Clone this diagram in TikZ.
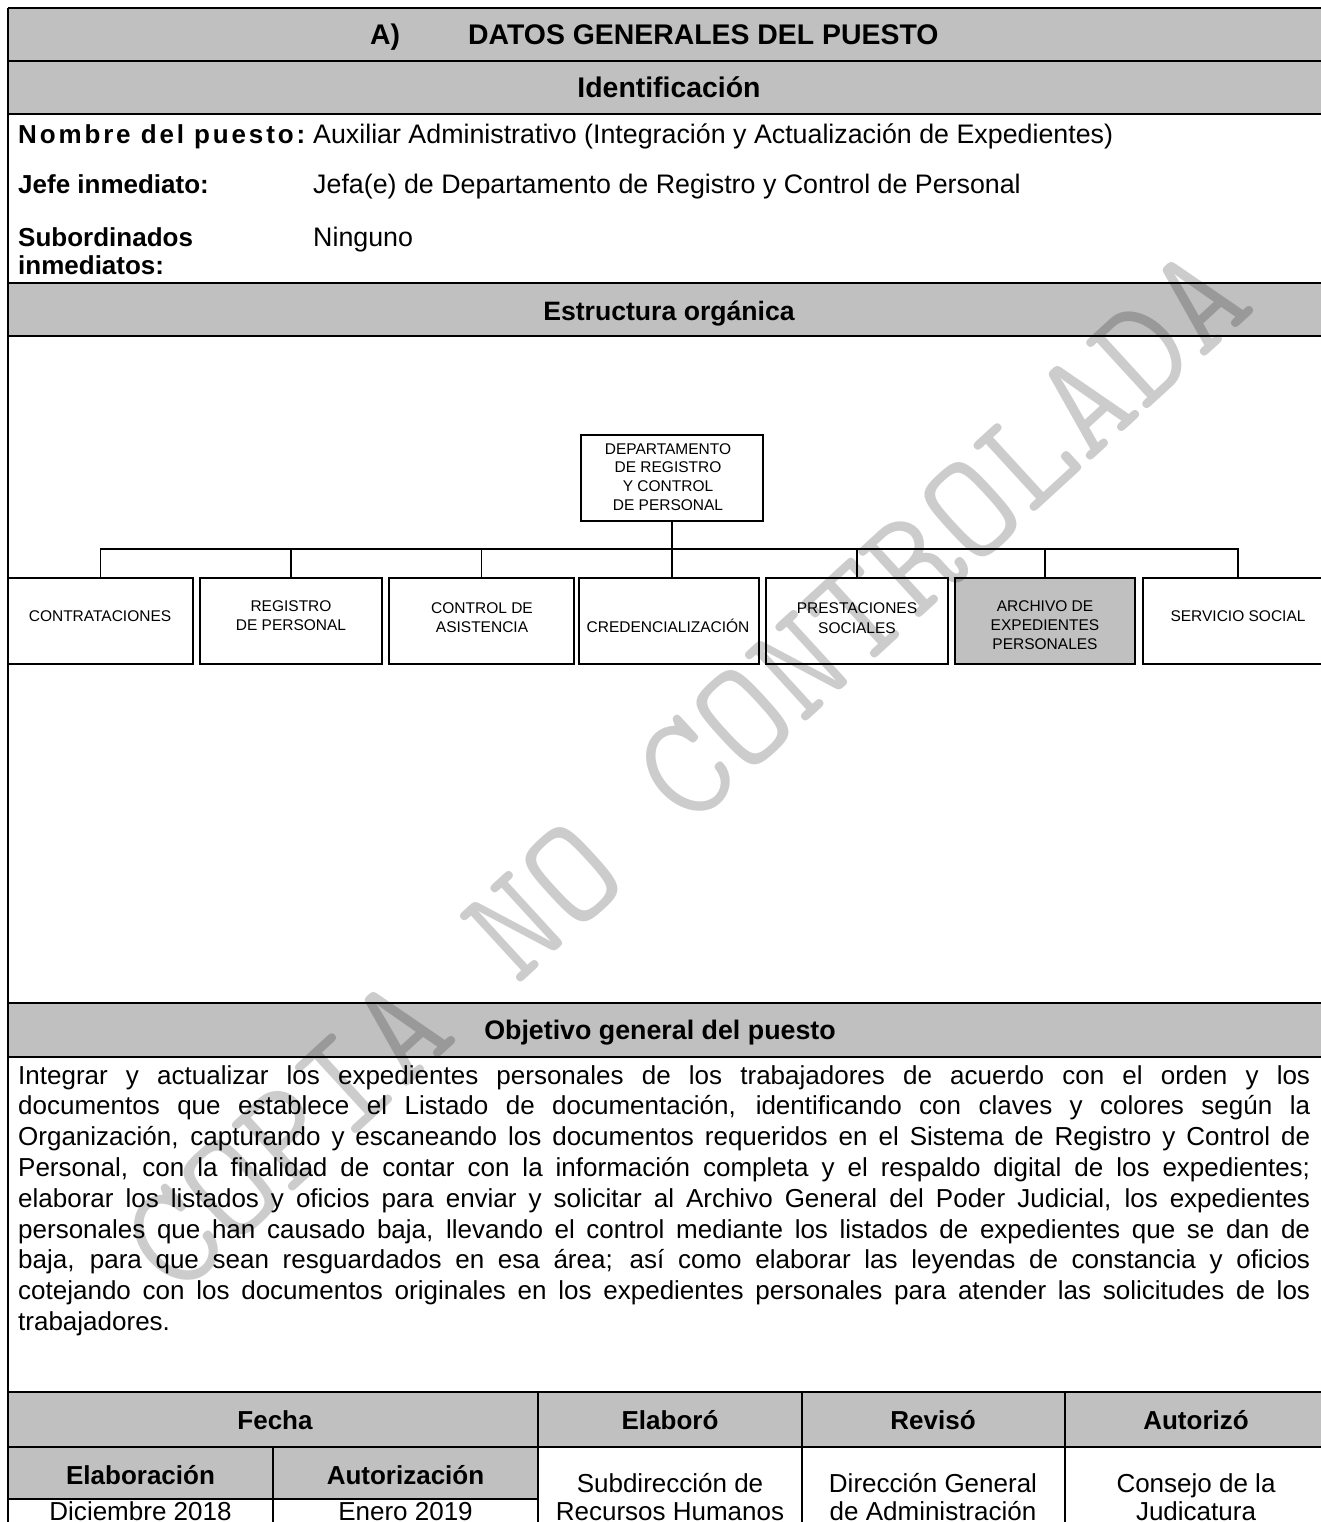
\documentclass[tikz,border=0pt]{standalone}
\usepackage{fontspec}
\setmainfont{Liberation Sans}
\definecolor{band}{RGB}{192,192,192}
\newcommand\szhead{\fontsize{26}{30}\selectfont}
\newcommand\sztitle{\fontsize{28.4}{32}\selectfont}
\newcommand\szval{\fontsize{26.8}{30}\selectfont}
\newcommand\szorg{\fontsize{15.5}{18.7}\selectfont}
\newcommand\szmark{\fontfamily{lmtt}\fontsize{150}{150}\selectfont}
\begin{document}
\begin{tikzpicture}[x=1pt,y=-1pt,
  rule/.style={line width=1.6pt},
  hdrtxt/.style={font=\szhead\bfseries, anchor=base, inner sep=0pt},
  titletxt/.style={font=\sztitle\bfseries, anchor=base, inner sep=0pt},
  celltxt/.style={font=\szhead, anchor=base, inner sep=0pt},
  lbl/.style={font=\szhead\bfseries, anchor=base west, inner sep=0pt},
  val/.style={font=\szval, anchor=base west, inner sep=0pt},
  bodyline/.style={font=\szhead, anchor=base west, inner sep=0pt},
  orgbox/.style={draw, line width=1.8pt, minimum height=86pt, inner sep=0pt},
  orgtxt/.style={font=\szorg, anchor=base, inner sep=0pt},
  link/.style={line width=1.3pt}]
\useasboundingbox (0,0) rectangle (1320,1522);

% shaded bands
\fill[band] (8,8) rectangle (1335,61);
\fill[band] (8,61) rectangle (1335,114);
\fill[band] (8,283) rectangle (1335,336);
\fill[band] (8,1003) rectangle (1335,1057);
\fill[band] (8,1392) rectangle (1335,1447);
\fill[band] (8,1447) rectangle (538,1499);

% table rules
\draw[rule] (8,8) -- (1335,8);
\draw[rule] (8,61) -- (1335,61);
\draw[rule] (8,114) -- (1335,114);
\draw[rule] (8,283) -- (1335,283);
\draw[rule] (8,336) -- (1335,336);
\draw[rule] (8,1003) -- (1335,1003);
\draw[rule] (8,1057) -- (1335,1057);
\draw[rule] (8,1392) -- (1335,1392);
\draw[rule] (8,1447) -- (1335,1447);
\draw[rule] (8,1499) -- (538,1499);
\draw[rule] (8,8) -- (8,1530);
\draw[rule] (273,1447) -- (273,1530);
\draw[rule] (538,1392) -- (538,1530);
\draw[rule] (802,1392) -- (802,1530);
\draw[rule] (1065,1392) -- (1065,1530);

% section headings
\node[titletxt] (hA) at (385,45) {A)};
\node[titletxt, anchor=base west] (hB) at (468,45) {DATOS GENERALES DEL PUESTO};
\node[titletxt] (hId) at (669,98) {Identificación};
\node[hdrtxt, font=\fontsize{26.6}{30}\selectfont\bfseries] (hEst) at (669,320) {Estructura orgánica};
\node[hdrtxt, font=\fontsize{26.8}{30}\selectfont\bfseries] (hObj) at (660,1039) {Objetivo general del puesto};

% identification rows
\node[lbl, font=\szhead\bfseries\addfontfeature{LetterSpace=11}] (l1) at (18,144) {Nombre del puesto:};
\node[val] (v1) at (313,144) {Auxiliar Administrativo (Integración y Actualización de Expedientes)};
\node[lbl] (l2) at (18,194) {Jefe inmediato:};
\node[val] (v2) at (313,194) {Jefa(e) de Departamento de Registro y Control de Personal};
\node[lbl] (l3) at (18,247) {Subordinados};
\node[lbl] (l3b) at (18,274) {inmediatos:};
\node[val] (v3) at (313,247) {Ninguno};

% organisation chart
\node[orgbox, minimum width=182pt] (top) at (672,478) {};
\node[orgbox, minimum width=185pt] (b1) at (100.5,621) {};
\node[orgbox, minimum width=182pt] (b2) at (291,621) {};
\node[orgbox, minimum width=185pt] (b3) at (481.5,621) {};
\node[orgbox, minimum width=180pt] (b4) at (669,621) {};
\node[orgbox, minimum width=182pt] (b5) at (857,621) {};
\node[orgbox, minimum width=180pt, fill=band] (b6) at (1045,621) {};
\node[orgbox, minimum width=190pt] (b7) at (1238,621) {};

\coordinate (bus) at (0,549);
\draw[link] (top.south) -- (top.south |- b4.north);
\draw[link] (b1.north) -- (b1.north |- bus) -- (b7.north |- bus) -- (b7.north);
\foreach \b in {b2,b3,b5,b6} \draw[link] (\b.north) -- (\b.north |- bus);

\node[orgtxt] (t0a) at (668,454.5) {DEPARTAMENTO};
\node[orgtxt] (t0b) at (668,472.5) {DE REGISTRO};
\node[orgtxt] (t0c) at (668,491.5) {Y CONTROL};
\node[orgtxt] (t0d) at (668,510.5) {DE PERSONAL};
\node[orgtxt] (t1) at (100,621.5) {CONTRATACIONES};
\node[orgtxt] (t2a) at (291,611.5) {REGISTRO};
\node[orgtxt] (t2b) at (291,630.5) {DE PERSONAL};
\node[orgtxt] (t3a) at (482,613.5) {CONTROL DE};
\node[orgtxt] (t3b) at (482,632.5) {ASISTENCIA};
\node[orgtxt] (t4) at (668,632.5) {CREDENCIALIZACIÓN};
\node[orgtxt] (t5a) at (857,613.5) {PRESTACIONES};
\node[orgtxt] (t5b) at (857,633.5) {SOCIALES};
\node[orgtxt] (t6a) at (1045,611.5) {ARCHIVO DE};
\node[orgtxt] (t6b) at (1045,630.5) {EXPEDIENTES};
\node[orgtxt] (t6c) at (1045,649.5) {PERSONALES};
\node[orgtxt] (t7) at (1238,621.5) {SERVICIO SOCIAL};

% objective paragraph, one justified line per node
\node[bodyline] (p1) at (18,1084) {\makebox[1292pt][s]{Integrar y actualizar los expedientes personales de los trabajadores de acuerdo con el orden y los}};
\node[bodyline] (p2) at (18,1114.8) {\makebox[1292pt][s]{documentos que establece el Listado de documentación, identificando con claves y colores según la}};
\node[bodyline] (p3) at (18,1145.6) {\makebox[1292pt][s]{Organización, capturando y escaneando los documentos requeridos en el Sistema de Registro y Control de}};
\node[bodyline] (p4) at (18,1176.4) {\makebox[1292pt][s]{Personal, con la finalidad de contar con la información completa y el respaldo digital de los expedientes;}};
\node[bodyline] (p5) at (18,1207.2) {\makebox[1292pt][s]{elaborar los listados y oficios para enviar y solicitar al Archivo General del Poder Judicial, los expedientes}};
\node[bodyline] (p6) at (18,1238) {\makebox[1292pt][s]{personales que han causado baja, llevando el control mediante los listados de expedientes que se dan de}};
\node[bodyline] (p7) at (18,1268.8) {\makebox[1292pt][s]{baja, para que sean resguardados en esa área; así como elaborar las leyendas de constancia y oficios}};
\node[bodyline] (p8) at (18,1299.6) {\makebox[1292pt][s]{cotejando con los documentos originales en los expedientes personales para atender las solicitudes de los}};
\node[bodyline] (p9) at (18,1330.4) {trabajadores.};

% signature table
\node[hdrtxt] (fFecha) at (275,1429) {Fecha};
\node[hdrtxt] (fElab) at (670,1429) {Elaboró};
\node[hdrtxt] (fRev) at (933,1429) {Revisó};
\node[hdrtxt] (fAut) at (1196,1429) {Autorizó};
\node[hdrtxt] (fE) at (140.5,1484) {Elaboración};
\node[hdrtxt] (fA) at (405.5,1484) {Autorización};
\node[celltxt] (dE) at (140.5,1520.5) {Diciembre 2018};
\node[celltxt] (dA) at (405.5,1520.5) {Enero 2019};
\node[celltxt] (e1) at (670,1492) {Subdirección de};
\node[celltxt] (e2) at (670,1520.5) {Recursos Humanos};
\node[celltxt] (r1) at (933,1492) {Dirección General};
\node[celltxt] (r2) at (933,1520.5) {de Administración};
\node[celltxt] (a1) at (1196,1492) {Consejo de la};
\node[celltxt] (a2) at (1196,1520.5) {Judicatura};

% watermark, a translucent typewriter line across the page
\node[font=\szmark, text opacity=0.2, rotate=42.5, inner sep=0pt] (wm) at (686,770) {COPIA NO CONTROLADA};
\end{tikzpicture}
\end{document}
